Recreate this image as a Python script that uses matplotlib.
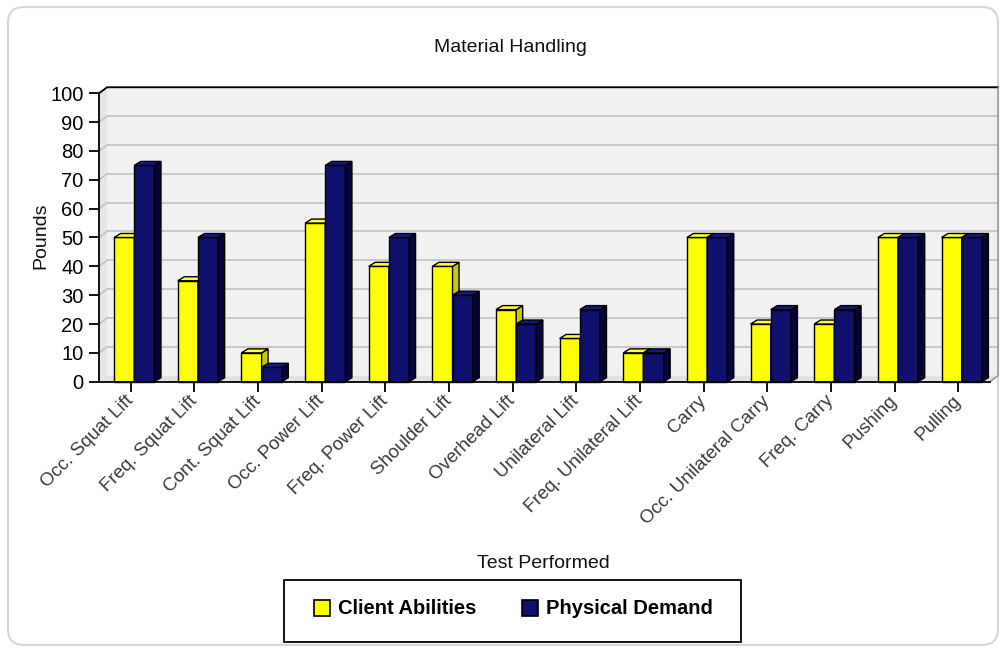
import matplotlib
matplotlib.use('Agg')
import matplotlib.pyplot as plt
from matplotlib.patches import Polygon, Rectangle, FancyBboxPatch
from matplotlib.transforms import IdentityTransform

categories = ["Occ. Squat Lift", "Freq. Squat Lift", "Cont. Squat Lift", "Occ. Power Lift",
              "Freq. Power Lift", "Shoulder Lift", "Overhead Lift", "Unilateral Lift",
              "Freq. Unilateral Lift", "Carry", "Occ. Unilateral Carry", "Freq. Carry",
              "Pushing", "Pulling"]
client_abilities = [50, 35, 10, 55, 40, 40, 25, 15, 10, 50, 20, 20, 50, 50]
physical_demand = [75, 50, 5, 75, 50, 30, 20, 25, 10, 50, 25, 25, 50, 50]
yticks = list(range(0, 101, 10))
series_names = ["Client Abilities", "Physical Demand"]

plt.rcParams['font.family'] = ['Liberation Sans', 'DejaVu Sans']

W, H = 1000, 648
fig = plt.figure(figsize=(W / 100, H / 100), dpi=100)

# outer rounded frame (pixel coords)
frame = FancyBboxPatch((8, 3), 990, 638, boxstyle='round,pad=0,rounding_size=16',
                       transform=IdentityTransform(), facecolor='none',
                       edgecolor='#d6d6d6', linewidth=1.5, zorder=-5)
fig.patches.append(frame)

ax = fig.add_axes([0.099, (H - 381.7) / H, 0.891, 288.4 / H])
ax.set_xlim(-0.5, 13.5)
ax.set_ylim(0, 100)
ax.patch.set_visible(False)

px_x = 891 / 14.0
px_y = 288.4 / 100.0
WDX, WDY = 8 / px_x, 6 / px_y
BDX, BDY = 6.5 / px_x, 4 / px_y
x0, x1 = -0.5, 13.5

# walls
ax.add_patch(Polygon([(x0 + WDX, WDY), (x1 + WDX, WDY), (x1 + WDX, 100 + WDY), (x0 + WDX, 100 + WDY)],
                     closed=True, facecolor='#f1f1f1', edgecolor='none', clip_on=False, zorder=1))
ax.add_patch(Polygon([(x0, 0), (x0 + WDX, WDY), (x0 + WDX, 100 + WDY), (x0, 100)],
                     closed=True, facecolor='#e6e6e6', edgecolor='none', clip_on=False, zorder=1))
ax.add_patch(Polygon([(x0, 0), (x1, 0), (x1 + WDX, WDY), (x0 + WDX, WDY)],
                     closed=True, facecolor='#e2e2e2', edgecolor='none', clip_on=False, zorder=1))
for yv in yticks[1:]:
    ax.plot([x0 + WDX, x1 + WDX], [yv + WDY, yv + WDY], color='#c4c4c4', lw=1.3, clip_on=False, zorder=2)
    ax.plot([x0, x0 + WDX], [yv, yv + WDY], color='#c4c4c4', lw=1.3, clip_on=False, zorder=2)
# wall outlines
ax.plot([x0, x0 + WDX, x1 + WDX], [100, 100 + WDY, 100 + WDY], color='black', lw=1.3, clip_on=False, zorder=3)
ax.plot([x1 + WDX, x1 + WDX, x1], [100 + WDY, WDY, 0], color='#8a8a8a', lw=1.0, clip_on=False, zorder=3)


def bar3d(xl, w, h, fc, tc, sc, z):
    ax.add_patch(Rectangle((xl, 0), w, h, facecolor=fc, edgecolor='black', lw=1.0, zorder=z, clip_on=False))
    ax.add_patch(Polygon([(xl + w, 0), (xl + w + BDX, BDY), (xl + w + BDX, h + BDY), (xl + w, h)],
                         closed=True, facecolor=sc, edgecolor='black', lw=1.0, zorder=z, clip_on=False))
    ax.add_patch(Polygon([(xl, h), (xl + BDX, h + BDY), (xl + w + BDX, h + BDY), (xl + w, h)],
                         closed=True, facecolor=tc, edgecolor='black', lw=1.0, zorder=z, clip_on=False))


YEL, YEL_T, YEL_S = '#ffff00', '#ffff40', '#c8c800'
NAV, NAV_T, NAV_S = '#10106e', '#181880', '#05053a'
bw = 0.317
for i, (a, b) in enumerate(zip(client_abilities, physical_demand)):
    bar3d(i - 0.262, bw, a, YEL, YEL_T, YEL_S, 10 + 2 * i)
    bar3d(i - 0.262 + bw, bw, b, NAV, NAV_T, NAV_S, 11 + 2 * i)

for s in ['top', 'right']:
    ax.spines[s].set_visible(False)
for s in ['left', 'bottom']:
    ax.spines[s].set_color('black')
    ax.spines[s].set_linewidth(1.3)
    ax.spines[s].set_zorder(50)

ax.set_yticks(yticks)
ax.set_yticklabels([str(v) for v in yticks], fontsize=14.5, color='black')
ax.set_xticks(range(len(categories)))
ax.set_xticklabels(categories, fontsize=13.5, color='#3a3a3a', rotation=45,
                   ha='right', va='center', rotation_mode='anchor')
ax.tick_params(axis='y', direction='out', length=7, width=1.3, pad=4)
ax.tick_params(axis='x', direction='out', length=7, width=1.3, pad=5)

fig.text(0.510, 1 - 47 / H, "Material Handling", fontsize=14, ha='center', va='center', color='#111111')
fig.text(0.041, 1 - 236 / H, "Pounds", fontsize=14, rotation=90, ha='center', va='center', color='#111111')
fig.text(0.543, 1 - 563 / H, "Test Performed", fontsize=14, ha='center', va='center', color='#111111')

# legend box (pixel coords)
fig.patches.append(Rectangle((283.5, H - 641.5), 457, 61.5, transform=IdentityTransform(),
                             facecolor='white', edgecolor='black', lw=1.3, zorder=5))
ly = H - 608
fig.patches.append(Rectangle((314, ly - 8), 16, 16, transform=IdentityTransform(),
                             facecolor=YEL, edgecolor='black', lw=1.2, zorder=6))
fig.patches.append(Rectangle((522, ly - 8), 16, 16, transform=IdentityTransform(),
                             facecolor=NAV, edgecolor='black', lw=1.2, zorder=6))
fig.text(338 / W, ly / H, series_names[0], fontsize=14.5, fontweight='bold', ha='left', va='center', zorder=7)
fig.text(546 / W, ly / H, series_names[1], fontsize=14.5, fontweight='bold', ha='left', va='center', zorder=7)

fig.savefig('out.png', dpi=100)
